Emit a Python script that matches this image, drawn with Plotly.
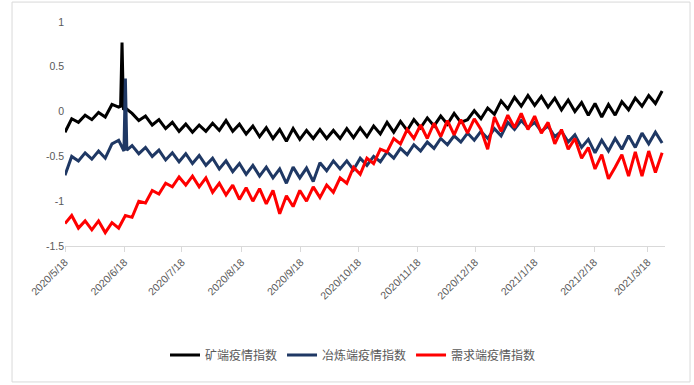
import pandas as pd
import plotly.graph_objects as go

start_date = "2020-05-18"
step_hours = 84  # half-week sampling

mine_values = [
    -0.23, -0.08, -0.12, -0.04, -0.09, -0.01, -0.06, 0.08, 0.05, 0.04,
    -0.02, -0.10, -0.05, -0.15, -0.09, -0.19, -0.12, -0.22, -0.14, -0.23,
    -0.15, -0.22, -0.13, -0.21, -0.10, -0.22, -0.14, -0.25, -0.16, -0.28,
    -0.18, -0.30, -0.20, -0.33, -0.19, -0.31, -0.21, -0.30, -0.20, -0.30,
    -0.21, -0.30, -0.19, -0.29, -0.18, -0.28, -0.16, -0.25, -0.12, -0.23,
    -0.11, -0.21, -0.09, -0.18, -0.07, -0.16, -0.05, -0.14, -0.02, -0.12,
    -0.09, 0.01, -0.08, 0.04, -0.03, 0.12, 0.03, 0.16, 0.06, 0.18,
    0.07, 0.17, 0.05, 0.15, 0.02, 0.13, 0.00, 0.10, -0.04, 0.09,
    -0.06, 0.08, -0.04, 0.11, 0.02, 0.15, 0.06, 0.18, 0.09, 0.23,
]
mine_extra_dates = ["2020-06-16 00:00", "2020-06-16 18:00", "2020-06-17 12:00"]
mine_extra_values = [0.06, 0.77, 0.02]

smelt_values = [
    -0.71, -0.50, -0.55, -0.46, -0.53, -0.44, -0.52, -0.36, -0.32, 0.37,
    -0.38, -0.47, -0.40, -0.50, -0.43, -0.54, -0.46, -0.56, -0.47, -0.58,
    -0.49, -0.60, -0.52, -0.64, -0.55, -0.67, -0.58, -0.70, -0.60, -0.72,
    -0.62, -0.74, -0.64, -0.80, -0.62, -0.74, -0.63, -0.78, -0.57, -0.66,
    -0.55, -0.64, -0.55, -0.65, -0.52, -0.60, -0.50, -0.56, -0.45, -0.52,
    -0.41, -0.48, -0.37, -0.44, -0.34, -0.41, -0.30, -0.37, -0.27, -0.34,
    -0.24, -0.32, -0.22, -0.30, -0.19, -0.27, -0.12, -0.20, -0.10, -0.18,
    -0.12, -0.22, -0.16, -0.28, -0.22, -0.34, -0.26, -0.40, -0.31, -0.46,
    -0.32, -0.44, -0.30, -0.42, -0.27, -0.40, -0.24, -0.36, -0.23, -0.35,
]
smelt_extra_dates = ["2020-06-17 18:00", "2020-06-19 06:00"]
smelt_extra_values = [-0.44, -0.43]

demand_values = [
    -1.25, -1.16, -1.30, -1.22, -1.32, -1.22, -1.35, -1.24, -1.30, -1.16,
    -1.18, -1.00, -1.02, -0.88, -0.92, -0.80, -0.84, -0.73, -0.82, -0.72,
    -0.84, -0.74, -0.90, -0.80, -0.93, -0.82, -0.98, -0.85, -1.00, -0.86,
    -1.03, -0.88, -1.14, -0.94, -1.06, -0.88, -1.00, -0.84, -0.96, -0.82,
    -0.90, -0.74, -0.80, -0.62, -0.70, -0.52, -0.58, -0.42, -0.45, -0.30,
    -0.36, -0.20, -0.30, -0.15, -0.30, -0.13, -0.28, -0.10, -0.26, -0.09,
    -0.24, -0.08, -0.20, -0.42, -0.06, -0.22, -0.04, -0.18, -0.02, -0.20,
    -0.05, -0.24, -0.12, -0.36, -0.20, -0.42, -0.30, -0.52, -0.40, -0.64,
    -0.48, -0.75, -0.62, -0.48, -0.72, -0.45, -0.72, -0.44, -0.68, -0.46,
]

series_names = ["矿端疫情指数", "冶炼端疫情指数", "需求端疫情指数"]
series_colors = ["#000000", "#1F3864", "#FF0000"]

tick_dates = ["2020-05-18", "2020-06-18", "2020-07-18", "2020-08-18", "2020-09-18",
              "2020-10-18", "2020-11-18", "2020-12-18", "2021-01-18", "2021-02-18",
              "2021-03-18"]
tick_labels = ["2020/5/18", "2020/6/18", "2020/7/18", "2020/8/18", "2020/9/18",
               "2020/10/18", "2020/11/18", "2020/12/18", "2021/1/18", "2021/2/18",
               "2021/3/18"]
y_ticks = [1, 0.5, 0, -0.5, -1, -1.5]
y_labels = ["1", "0.5", "0", "-0.5", "-1", "-1.5"]


def build(values, extra_dates=(), extra_values=()):
    base = pd.Timestamp(start_date)
    pts = [(base + pd.Timedelta(hours=step_hours * i), v) for i, v in enumerate(values)]
    pts += [(pd.Timestamp(d), v) for d, v in zip(extra_dates, extra_values)]
    pts.sort(key=lambda p: p[0])
    return [p[0] for p in pts], [p[1] for p in pts]


data = [
    build(mine_values, mine_extra_dates, mine_extra_values),
    build(smelt_values, smelt_extra_dates, smelt_extra_values),
    build(demand_values),
]

fig = go.Figure()
for (xs, ys), name, color in zip(data, series_names, series_colors):
    fig.add_trace(go.Scatter(x=xs, y=ys, mode="lines", name=name,
                             line=dict(color=color, width=3)))

fig.update_layout(
    width=694, height=385,
    margin=dict(l=65, r=29, t=22, b=139),
    paper_bgcolor="white", plot_bgcolor="white",
    font=dict(family="Liberation Sans, Noto Sans CJK SC", size=10, color="#595959"),
    showlegend=True,
    legend=dict(orientation="h", x=0.48, xanchor="center", y=-0.487, yanchor="middle",
                font=dict(family="Noto Sans CJK SC", size=12, color="#595959"),
                itemwidth=30, tracegroupgap=0),
    shapes=[dict(type="rect", xref="paper", yref="paper",
                 x0=-0.0883, x1=1.0417, y0=-0.607, y1=1.089,
                 line=dict(color="#D9D9D9", width=1), layer="below")],
)
fig.update_xaxes(type="date", range=["2020-05-18", "2021-03-27"],
                 tickvals=tick_dates, ticktext=tick_labels, tickangle=-45,
                 showgrid=False, zeroline=False, showline=True, linecolor="#D9D9D9",
                 ticks="outside", ticklen=5, tickcolor="#D9D9D9",
                 tickfont=dict(size=10.5, color="#595959"))
fig.update_yaxes(range=[-1.5, 1], tickvals=y_ticks, ticktext=y_labels,
                 showgrid=False, zeroline=False, showline=False,
                 ticks="", tickfont=dict(size=10.5, color="#595959"))

fig.write_html("out.html")
